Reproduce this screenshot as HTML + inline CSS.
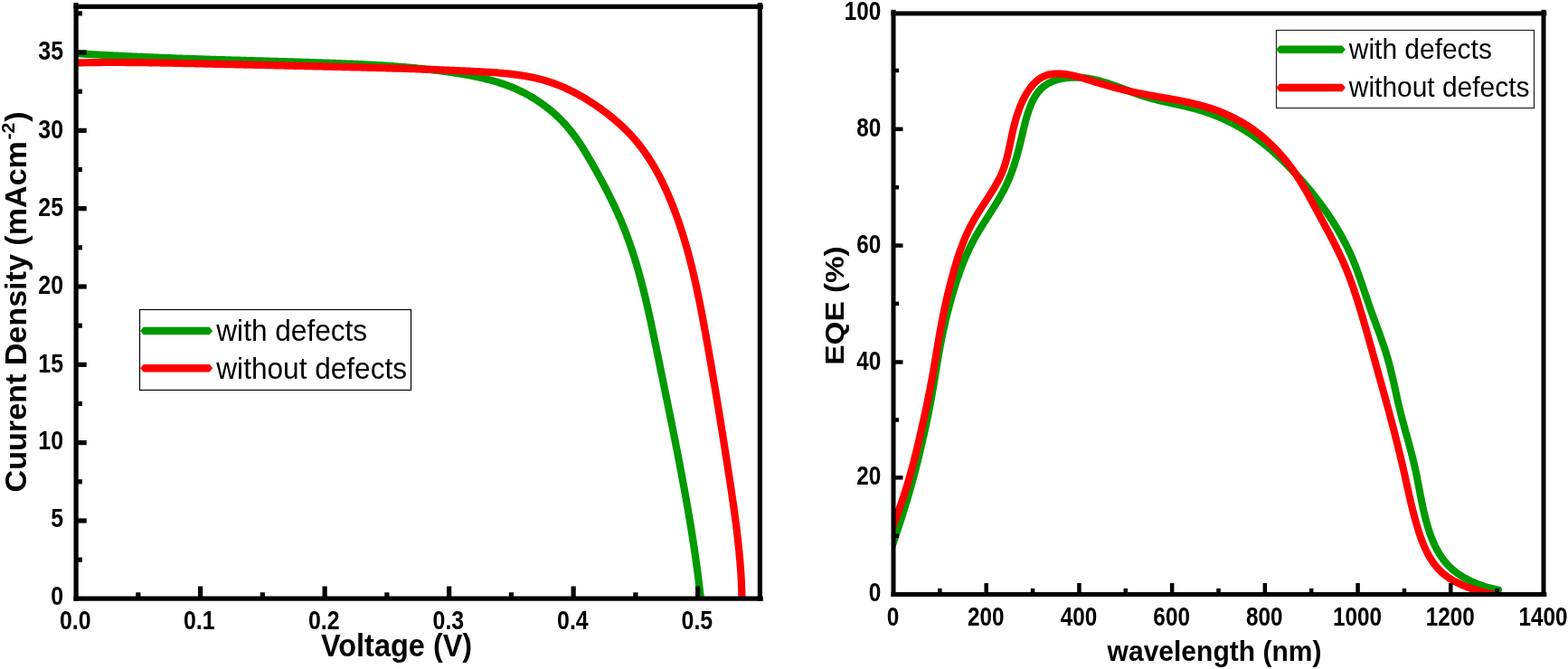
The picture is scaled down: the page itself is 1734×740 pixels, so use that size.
<!DOCTYPE html>
<html lang="en">
<head>
<meta charset="utf-8">
<title>J-V and EQE characteristics with and without defects</title>
<style>
html,body{margin:0;padding:0;background:#fff;}
body{width:1734px;height:740px;overflow:hidden;font-family:"Liberation Sans", sans-serif;}
svg{display:block;position:absolute;left:0;top:0;}
text{white-space:pre;}
</style>
</head>
<body>
<svg width="1734" height="740" viewBox="0 0 1734 740" font-family='"Liberation Sans", sans-serif' fill="#000">
<rect width="1734" height="740" fill="#fff"/>
<defs>
<clipPath id="cl"><rect x="84.1" y="7.3" width="756.3" height="654.8"/></clipPath>
<clipPath id="cr"><rect x="988" y="14.9" width="723" height="642.6"/></clipPath>
</defs>
<g fill="none" stroke-linejoin="round" stroke-linecap="butt" stroke-width="8.2" clip-path="url(#cl)">
<path stroke="#009900" d="M80.03 58.91 L81.89 59.03 L83.74 59.14 L85.6 59.25 L87.46 59.36 L89.31 59.47 L91.17 59.58 L93.03 59.69 L94.89 59.8 L96.75 59.91 L98.6 60.01 L100.46 60.12 L102.32 60.23 L104.18 60.33 L106.04 60.43 L107.9 60.53 L109.76 60.64 L111.62 60.74 L113.48 60.84 L115.35 60.93 L117.21 61.03 L119.07 61.13 L120.93 61.23 L122.79 61.32 L124.66 61.42 L126.52 61.51 L128.38 61.6 L130.24 61.7 L132.11 61.79 L133.97 61.88 L135.83 61.97 L137.7 62.06 L139.56 62.15 L141.43 62.23 L143.29 62.32 L145.15 62.41 L147.02 62.49 L148.88 62.58 L150.75 62.66 L152.61 62.75 L154.48 62.83 L156.34 62.91 L158.21 62.99 L160.07 63.07 L161.94 63.16 L163.8 63.23 L165.67 63.31 L167.53 63.39 L169.4 63.47 L171.26 63.55 L173.13 63.62 L175 63.7 L176.86 63.77 L178.73 63.85 L180.59 63.92 L182.46 63.99 L184.32 64.07 L186.19 64.14 L188.05 64.21 L189.92 64.28 L191.78 64.35 L193.65 64.42 L195.51 64.49 L197.37 64.56 L199.24 64.63 L201.1 64.69 L202.97 64.76 L204.83 64.83 L206.7 64.89 L208.56 64.96 L210.42 65.02 L212.29 65.08 L214.15 65.15 L216.01 65.21 L217.88 65.27 L219.74 65.34 L221.6 65.4 L223.46 65.46 L225.33 65.52 L227.19 65.58 L229.05 65.64 L230.91 65.7 L232.77 65.76 L234.64 65.82 L236.5 65.87 L238.36 65.93 L240.22 65.99 L242.08 66.05 L243.94 66.1 L245.8 66.16 L247.66 66.22 L249.52 66.27 L251.38 66.33 L253.25 66.38 L255.11 66.44 L256.97 66.49 L258.83 66.55 L260.69 66.6 L262.55 66.66 L264.41 66.71 L266.27 66.77 L268.13 66.82 L269.99 66.87 L271.85 66.93 L273.71 66.98 L275.57 67.03 L277.43 67.09 L279.29 67.14 L281.15 67.19 L283.01 67.25 L284.87 67.3 L286.73 67.35 L288.59 67.41 L290.45 67.46 L292.31 67.51 L294.17 67.57 L296.03 67.62 L297.89 67.68 L299.75 67.73 L301.61 67.78 L303.47 67.84 L305.33 67.89 L307.2 67.95 L309.06 68 L310.92 68.05 L312.78 68.11 L314.64 68.16 L316.5 68.22 L318.36 68.27 L320.22 68.33 L322.09 68.39 L323.95 68.44 L325.81 68.5 L327.67 68.55 L329.54 68.61 L331.4 68.67 L333.26 68.73 L335.12 68.78 L336.99 68.84 L338.85 68.9 L340.71 68.96 L342.58 69.02 L344.44 69.08 L346.3 69.14 L348.17 69.2 L350.03 69.26 L351.9 69.32 L353.76 69.39 L355.63 69.45 L357.49 69.51 L359.36 69.58 L361.22 69.64 L363.09 69.71 L364.96 69.77 L366.82 69.84 L368.69 69.91 L370.56 69.97 L372.42 70.04 L374.29 70.11 L376.16 70.18 L378.03 70.25 L379.89 70.33 L381.76 70.4 L383.63 70.48 L385.5 70.55 L387.36 70.63 L389.23 70.71 L391.1 70.79 L392.97 70.88 L394.83 70.96 L396.7 71.05 L398.57 71.13 L400.44 71.22 L402.3 71.31 L404.17 71.41 L406.04 71.5 L407.9 71.6 L409.77 71.7 L411.64 71.8 L413.5 71.9 L415.37 72.01 L417.23 72.12 L419.1 72.23 L420.96 72.34 L422.83 72.45 L424.69 72.57 L426.56 72.69 L428.42 72.81 L430.29 72.94 L432.15 73.07 L434.01 73.2 L435.87 73.33 L437.74 73.47 L439.6 73.61 L441.46 73.75 L443.32 73.9 L445.18 74.05 L447.04 74.2 L448.9 74.36 L450.76 74.52 L452.61 74.68 L454.47 74.85 L456.33 75.02 L458.18 75.19 L460.04 75.37 L461.9 75.55 L463.75 75.73 L465.6 75.92 L467.46 76.11 L469.31 76.31 L471.16 76.51 L473.01 76.71 L474.86 76.92 L476.71 77.13 L478.56 77.35 L480.41 77.57 L482.25 77.79 L484.1 78.02 L485.95 78.26 L487.79 78.5 L489.63 78.74 L491.48 78.99 L493.32 79.24 L495.16 79.5 L497 79.76 L498.84 80.03 L500.68 80.3 L502.51 80.57 L504.35 80.86 L506.19 81.14 L508.02 81.44 L509.85 81.74 L511.68 82.04 L513.51 82.35 L515.34 82.67 L517.17 83 L518.99 83.33 L520.81 83.68 L522.63 84.03 L524.45 84.39 L526.26 84.76 L528.08 85.14 L529.89 85.53 L531.69 85.94 L533.5 86.35 L535.3 86.77 L537.09 87.21 L538.89 87.66 L540.68 88.12 L542.47 88.6 L544.25 89.09 L546.03 89.59 L547.8 90.11 L549.57 90.64 L551.34 91.19 L553.1 91.75 L554.86 92.33 L556.61 92.93 L558.36 93.54 L560.1 94.17 L561.84 94.82 L563.57 95.49 L565.3 96.17 L567.02 96.87 L568.74 97.6 L570.45 98.34 L572.16 99.1 L573.85 99.88 L575.55 100.69 L577.23 101.51 L578.91 102.36 L580.59 103.22 L582.25 104.11 L583.91 105.02 L585.56 105.95 L587.2 106.91 L588.84 107.88 L590.46 108.87 L592.07 109.88 L593.68 110.91 L595.27 111.96 L596.85 113.03 L598.42 114.12 L599.97 115.22 L601.51 116.34 L603.04 117.48 L604.56 118.64 L606.06 119.81 L607.55 121.01 L609.02 122.21 L610.47 123.43 L611.91 124.67 L613.33 125.93 L614.74 127.19 L616.12 128.48 L617.49 129.78 L618.84 131.09 L620.17 132.41 L621.48 133.75 L622.77 135.1 L624.04 136.47 L625.29 137.85 L626.51 139.24 L627.72 140.64 L628.91 142.05 L630.09 143.47 L631.24 144.91 L632.38 146.36 L633.5 147.81 L634.6 149.28 L635.7 150.76 L636.77 152.24 L637.83 153.74 L638.88 155.24 L639.92 156.76 L640.94 158.28 L641.96 159.81 L642.96 161.34 L643.95 162.89 L644.94 164.44 L645.91 166 L646.88 167.56 L647.84 169.13 L648.79 170.71 L649.73 172.29 L650.67 173.88 L651.61 175.47 L652.54 177.07 L653.47 178.67 L654.39 180.28 L655.31 181.89 L656.23 183.5 L657.14 185.12 L658.06 186.74 L658.97 188.36 L659.88 189.99 L660.78 191.62 L661.68 193.25 L662.58 194.89 L663.48 196.53 L664.37 198.17 L665.25 199.82 L666.14 201.47 L667.02 203.12 L667.89 204.78 L668.76 206.44 L669.63 208.1 L670.49 209.77 L671.34 211.44 L672.2 213.11 L673.04 214.78 L673.88 216.46 L674.72 218.14 L675.55 219.83 L676.37 221.51 L677.19 223.2 L678 224.9 L678.81 226.59 L679.61 228.29 L680.4 229.99 L681.19 231.7 L681.97 233.4 L682.74 235.11 L683.51 236.82 L684.27 238.54 L685.02 240.26 L685.76 241.98 L686.5 243.7 L687.22 245.42 L687.95 247.15 L688.66 248.88 L689.36 250.61 L690.06 252.35 L690.74 254.08 L691.42 255.82 L692.09 257.56 L692.76 259.31 L693.41 261.05 L694.06 262.8 L694.7 264.55 L695.33 266.3 L695.95 268.06 L696.57 269.81 L697.18 271.57 L697.78 273.33 L698.38 275.09 L698.97 276.86 L699.55 278.63 L700.12 280.39 L700.69 282.16 L701.25 283.94 L701.81 285.71 L702.36 287.49 L702.9 289.26 L703.44 291.04 L703.97 292.82 L704.49 294.6 L705.01 296.39 L705.53 298.17 L706.03 299.96 L706.54 301.75 L707.04 303.54 L707.53 305.33 L708.02 307.12 L708.5 308.92 L708.97 310.72 L709.45 312.51 L709.92 314.31 L710.38 316.11 L710.84 317.91 L711.29 319.71 L711.75 321.52 L712.19 323.32 L712.63 325.13 L713.07 326.93 L713.51 328.74 L713.94 330.55 L714.37 332.36 L714.79 334.17 L715.21 335.99 L715.63 337.8 L716.05 339.61 L716.46 341.43 L716.87 343.24 L717.28 345.06 L717.68 346.88 L718.08 348.69 L718.48 350.51 L718.88 352.33 L719.27 354.15 L719.67 355.97 L720.06 357.79 L720.44 359.61 L720.83 361.44 L721.22 363.26 L721.6 365.08 L721.98 366.91 L722.36 368.73 L722.74 370.56 L723.12 372.38 L723.5 374.21 L723.88 376.03 L724.26 377.86 L724.63 379.68 L725.01 381.51 L725.38 383.34 L725.76 385.16 L726.13 386.99 L726.5 388.81 L726.88 390.64 L727.25 392.47 L727.63 394.3 L728 396.12 L728.38 397.95 L728.75 399.78 L729.13 401.6 L729.5 403.43 L729.88 405.26 L730.25 407.08 L730.63 408.91 L731 410.74 L731.38 412.56 L731.75 414.39 L732.13 416.22 L732.5 418.05 L732.88 419.87 L733.25 421.7 L733.63 423.53 L734 425.35 L734.38 427.18 L734.75 429.01 L735.13 430.84 L735.5 432.66 L735.87 434.49 L736.25 436.32 L736.62 438.15 L737 439.97 L737.37 441.8 L737.74 443.63 L738.11 445.46 L738.49 447.29 L738.86 449.11 L739.23 450.94 L739.6 452.77 L739.97 454.6 L740.34 456.43 L740.71 458.26 L741.08 460.08 L741.45 461.91 L741.82 463.74 L742.19 465.57 L742.55 467.4 L742.92 469.23 L743.29 471.06 L743.65 472.89 L744.02 474.72 L744.38 476.55 L744.75 478.37 L745.11 480.2 L745.48 482.03 L745.84 483.86 L746.2 485.69 L746.56 487.52 L746.92 489.35 L747.28 491.18 L747.64 493.01 L748 494.84 L748.36 496.67 L748.72 498.5 L749.07 500.34 L749.43 502.17 L749.78 504 L750.14 505.83 L750.49 507.66 L750.84 509.49 L751.19 511.32 L751.54 513.15 L751.89 514.98 L752.24 516.82 L752.59 518.65 L752.93 520.48 L753.28 522.31 L753.62 524.15 L753.97 525.98 L754.31 527.81 L754.65 529.64 L754.99 531.48 L755.33 533.31 L755.67 535.14 L756.01 536.98 L756.35 538.81 L756.68 540.64 L757.01 542.48 L757.35 544.31 L757.68 546.14 L758.01 547.98 L758.34 549.81 L758.67 551.65 L758.99 553.48 L759.32 555.32 L759.64 557.15 L759.96 558.99 L760.28 560.83 L760.6 562.66 L760.92 564.5 L761.24 566.33 L761.55 568.17 L761.86 570.01 L762.17 571.85 L762.48 573.68 L762.79 575.52 L763.1 577.36 L763.4 579.2 L763.71 581.04 L764.01 582.87 L764.31 584.71 L764.61 586.55 L764.9 588.39 L765.19 590.23 L765.49 592.07 L765.78 593.91 L766.07 595.76 L766.35 597.6 L766.64 599.44 L766.92 601.28 L767.2 603.12 L767.48 604.97 L767.75 606.81 L768.03 608.65 L768.3 610.5 L768.57 612.34 L768.83 614.18 L769.1 616.03 L769.36 617.87 L769.62 619.72 L769.88 621.57 L770.14 623.41 L770.39 625.26 L770.64 627.11 L770.89 628.96 L771.13 630.8 L771.38 632.65 L771.62 634.5 L771.86 636.35 L772.09 638.2 L772.33 640.05 L772.56 641.9 L772.79 643.75 L773.01 645.61 L773.23 647.46 L773.45 649.31 L773.67 651.16 L773.89 653.02 L774.1 654.87 L774.31 656.73 L774.51 658.58 L774.72 660.44 L774.92 662.29 L775.11 664.15 L775.31 666.01"/>
<path stroke="#ff0000" d="M79.98 69.55 L81.95 69.5 L83.91 69.45 L85.88 69.41 L87.84 69.36 L89.81 69.32 L91.77 69.29 L93.74 69.25 L95.7 69.22 L97.67 69.19 L99.63 69.16 L101.59 69.13 L103.56 69.11 L105.52 69.09 L107.48 69.07 L109.44 69.05 L111.41 69.04 L113.37 69.02 L115.33 69.01 L117.29 69 L119.26 69 L121.22 68.99 L123.18 68.99 L125.14 68.99 L127.1 68.99 L129.06 68.99 L131.02 69 L132.98 69 L134.95 69.01 L136.91 69.02 L138.87 69.03 L140.83 69.04 L142.79 69.06 L144.75 69.07 L146.71 69.09 L148.67 69.11 L150.63 69.13 L152.59 69.15 L154.55 69.17 L156.51 69.2 L158.47 69.22 L160.43 69.25 L162.39 69.27 L164.35 69.3 L166.31 69.33 L168.27 69.36 L170.23 69.39 L172.19 69.43 L174.15 69.46 L176.1 69.49 L178.06 69.53 L180.02 69.56 L181.98 69.6 L183.94 69.64 L185.9 69.68 L187.86 69.71 L189.82 69.75 L191.78 69.79 L193.74 69.83 L195.7 69.88 L197.66 69.92 L199.62 69.96 L201.58 70 L203.54 70.04 L205.5 70.09 L207.46 70.13 L209.43 70.17 L211.39 70.22 L213.35 70.26 L215.31 70.3 L217.27 70.35 L219.23 70.39 L221.19 70.44 L223.15 70.48 L225.11 70.52 L227.08 70.57 L229.04 70.61 L231 70.66 L232.96 70.7 L234.92 70.74 L236.89 70.79 L238.85 70.83 L240.81 70.88 L242.77 70.92 L244.74 70.96 L246.7 71.01 L248.66 71.05 L250.63 71.1 L252.59 71.14 L254.55 71.18 L256.51 71.23 L258.48 71.27 L260.44 71.32 L262.4 71.36 L264.37 71.4 L266.33 71.45 L268.3 71.49 L270.26 71.54 L272.22 71.58 L274.19 71.62 L276.15 71.67 L278.11 71.71 L280.08 71.76 L282.04 71.8 L284 71.85 L285.97 71.89 L287.93 71.93 L289.89 71.98 L291.86 72.02 L293.82 72.07 L295.79 72.11 L297.75 72.16 L299.71 72.2 L301.68 72.25 L303.64 72.29 L305.6 72.33 L307.57 72.38 L309.53 72.42 L311.49 72.47 L313.46 72.51 L315.42 72.56 L317.38 72.6 L319.35 72.65 L321.31 72.69 L323.27 72.74 L325.24 72.78 L327.2 72.83 L329.16 72.88 L331.12 72.92 L333.09 72.97 L335.05 73.01 L337.01 73.06 L338.97 73.1 L340.93 73.15 L342.9 73.2 L344.86 73.24 L346.82 73.29 L348.78 73.33 L350.74 73.38 L352.7 73.43 L354.66 73.47 L356.63 73.52 L358.59 73.57 L360.55 73.61 L362.51 73.66 L364.47 73.71 L366.43 73.75 L368.39 73.8 L370.35 73.85 L372.31 73.9 L374.27 73.94 L376.23 73.99 L378.19 74.04 L380.14 74.09 L382.1 74.13 L384.06 74.18 L386.02 74.23 L387.98 74.28 L389.94 74.33 L391.89 74.38 L393.85 74.43 L395.81 74.47 L397.77 74.52 L399.73 74.57 L401.68 74.62 L403.64 74.68 L405.6 74.73 L407.56 74.78 L409.51 74.83 L411.47 74.88 L413.43 74.93 L415.39 74.99 L417.34 75.04 L419.3 75.09 L421.26 75.15 L423.22 75.2 L425.17 75.26 L427.13 75.31 L429.09 75.37 L431.05 75.42 L433.01 75.48 L434.96 75.54 L436.92 75.6 L438.88 75.65 L440.84 75.71 L442.8 75.77 L444.76 75.83 L446.72 75.89 L448.68 75.96 L450.64 76.02 L452.59 76.08 L454.55 76.15 L456.51 76.21 L458.48 76.27 L460.44 76.34 L462.4 76.41 L464.36 76.47 L466.32 76.54 L468.28 76.61 L470.24 76.68 L472.2 76.75 L474.17 76.82 L476.13 76.9 L478.09 76.97 L480.06 77.04 L482.02 77.12 L483.98 77.19 L485.95 77.27 L487.91 77.35 L489.88 77.42 L491.84 77.5 L493.81 77.58 L495.78 77.67 L497.74 77.75 L499.71 77.83 L501.68 77.92 L503.65 78 L505.62 78.09 L507.58 78.18 L509.55 78.26 L511.52 78.35 L513.49 78.44 L515.47 78.54 L517.44 78.63 L519.41 78.72 L521.38 78.82 L523.36 78.92 L525.33 79.01 L527.3 79.11 L529.28 79.21 L531.25 79.32 L533.23 79.42 L535.21 79.53 L537.18 79.64 L539.16 79.76 L541.13 79.88 L543.1 80 L545.08 80.13 L547.05 80.27 L549.02 80.41 L550.99 80.56 L552.96 80.72 L554.92 80.88 L556.89 81.06 L558.85 81.24 L560.81 81.44 L562.77 81.64 L564.73 81.86 L566.68 82.08 L568.63 82.32 L570.57 82.57 L572.52 82.83 L574.46 83.11 L576.4 83.4 L578.33 83.7 L580.26 84.02 L582.18 84.35 L584.1 84.71 L586.02 85.07 L587.93 85.46 L589.84 85.86 L591.74 86.28 L593.64 86.71 L595.53 87.17 L597.42 87.65 L599.3 88.14 L601.18 88.66 L603.05 89.2 L604.91 89.76 L606.77 90.34 L608.62 90.94 L610.46 91.57 L612.3 92.22 L614.13 92.89 L615.96 93.58 L617.78 94.3 L619.59 95.03 L621.39 95.79 L623.19 96.56 L624.98 97.36 L626.76 98.17 L628.54 99.01 L630.3 99.86 L632.07 100.73 L633.82 101.62 L635.57 102.52 L637.3 103.44 L639.04 104.38 L640.76 105.34 L642.48 106.31 L644.18 107.29 L645.88 108.29 L647.58 109.31 L649.26 110.34 L650.94 111.38 L652.61 112.44 L654.27 113.51 L655.92 114.59 L657.56 115.69 L659.2 116.8 L660.82 117.91 L662.44 119.04 L664.05 120.19 L665.65 121.34 L667.24 122.5 L668.82 123.68 L670.39 124.87 L671.95 126.07 L673.5 127.28 L675.04 128.5 L676.57 129.74 L678.09 130.99 L679.59 132.25 L681.09 133.52 L682.57 134.81 L684.04 136.11 L685.5 137.42 L686.94 138.74 L688.37 140.07 L689.79 141.42 L691.19 142.78 L692.58 144.16 L693.95 145.55 L695.31 146.95 L696.66 148.36 L697.99 149.79 L699.3 151.23 L700.6 152.68 L701.89 154.14 L703.15 155.63 L704.41 157.12 L705.64 158.63 L706.86 160.15 L708.06 161.68 L709.25 163.23 L710.42 164.78 L711.57 166.36 L712.71 167.94 L713.83 169.53 L714.94 171.14 L716.04 172.75 L717.12 174.38 L718.18 176.02 L719.23 177.67 L720.27 179.33 L721.29 180.99 L722.3 182.67 L723.3 184.36 L724.28 186.05 L725.25 187.76 L726.21 189.47 L727.15 191.19 L728.08 192.92 L729 194.66 L729.91 196.4 L730.8 198.15 L731.69 199.91 L732.56 201.67 L733.42 203.44 L734.27 205.22 L735.1 207 L735.93 208.79 L736.75 210.58 L737.55 212.38 L738.35 214.18 L739.13 215.99 L739.9 217.8 L740.67 219.61 L741.42 221.43 L742.17 223.25 L742.91 225.08 L743.63 226.91 L744.35 228.74 L745.06 230.57 L745.76 232.4 L746.46 234.24 L747.14 236.08 L747.82 237.92 L748.48 239.77 L749.14 241.61 L749.8 243.46 L750.44 245.31 L751.08 247.17 L751.7 249.02 L752.32 250.88 L752.94 252.74 L753.54 254.6 L754.14 256.46 L754.73 258.33 L755.32 260.19 L755.89 262.06 L756.46 263.93 L757.03 265.81 L757.58 267.68 L758.13 269.56 L758.68 271.44 L759.21 273.32 L759.74 275.2 L760.27 277.08 L760.79 278.97 L761.3 280.85 L761.81 282.74 L762.31 284.63 L762.8 286.52 L763.29 288.41 L763.78 290.31 L764.26 292.2 L764.73 294.1 L765.2 296 L765.66 297.9 L766.12 299.8 L766.58 301.7 L767.03 303.61 L767.47 305.51 L767.91 307.42 L768.35 309.33 L768.78 311.24 L769.2 313.15 L769.63 315.06 L770.05 316.97 L770.46 318.88 L770.87 320.8 L771.28 322.71 L771.68 324.63 L772.08 326.54 L772.48 328.46 L772.88 330.38 L773.27 332.3 L773.65 334.22 L774.04 336.14 L774.42 338.06 L774.8 339.99 L775.17 341.91 L775.55 343.83 L775.92 345.76 L776.29 347.68 L776.65 349.61 L777.02 351.54 L777.38 353.46 L777.74 355.39 L778.1 357.32 L778.45 359.25 L778.81 361.18 L779.16 363.11 L779.52 365.04 L779.87 366.97 L780.22 368.9 L780.56 370.83 L780.91 372.76 L781.26 374.69 L781.6 376.62 L781.95 378.55 L782.29 380.48 L782.63 382.41 L782.98 384.35 L783.32 386.28 L783.66 388.21 L784 390.14 L784.34 392.07 L784.68 394.01 L785.01 395.94 L785.35 397.87 L785.69 399.8 L786.02 401.74 L786.36 403.67 L786.69 405.6 L787.02 407.54 L787.36 409.47 L787.69 411.41 L788.02 413.34 L788.35 415.27 L788.68 417.21 L789.01 419.14 L789.34 421.08 L789.66 423.01 L789.99 424.95 L790.32 426.88 L790.64 428.82 L790.97 430.75 L791.29 432.69 L791.61 434.62 L791.94 436.56 L792.26 438.49 L792.58 440.43 L792.9 442.36 L793.22 444.3 L793.54 446.24 L793.86 448.17 L794.18 450.11 L794.5 452.05 L794.81 453.98 L795.13 455.92 L795.45 457.85 L795.76 459.79 L796.08 461.73 L796.39 463.66 L796.7 465.6 L797.02 467.54 L797.33 469.48 L797.64 471.41 L797.95 473.35 L798.26 475.29 L798.57 477.22 L798.88 479.16 L799.19 481.1 L799.5 483.04 L799.81 484.97 L800.11 486.91 L800.42 488.85 L800.73 490.79 L801.03 492.73 L801.34 494.66 L801.64 496.6 L801.95 498.54 L802.25 500.48 L802.55 502.41 L802.86 504.35 L803.16 506.29 L803.46 508.23 L803.76 510.17 L804.06 512.11 L804.36 514.04 L804.66 515.98 L804.96 517.92 L805.26 519.86 L805.56 521.8 L805.86 523.74 L806.15 525.67 L806.45 527.61 L806.75 529.55 L807.04 531.49 L807.34 533.43 L807.63 535.37 L807.93 537.3 L808.22 539.24 L808.51 541.18 L808.8 543.12 L809.09 545.06 L809.38 547 L809.66 548.94 L809.95 550.88 L810.23 552.82 L810.51 554.76 L810.79 556.7 L811.07 558.64 L811.34 560.58 L811.62 562.52 L811.89 564.46 L812.16 566.4 L812.42 568.34 L812.69 570.28 L812.95 572.23 L813.2 574.17 L813.46 576.11 L813.71 578.05 L813.96 580 L814.21 581.94 L814.45 583.88 L814.69 585.83 L814.93 587.77 L815.16 589.72 L815.39 591.66 L815.62 593.61 L815.84 595.56 L816.06 597.5 L816.27 599.45 L816.48 601.4 L816.69 603.35 L816.89 605.3 L817.09 607.25 L817.28 609.2 L817.47 611.15 L817.65 613.1 L817.83 615.05 L818.01 617 L818.18 618.95 L818.34 620.91 L818.5 622.86 L818.65 624.81 L818.8 626.77 L818.95 628.73 L819.08 630.68 L819.22 632.64 L819.34 634.6 L819.47 636.56 L819.58 638.51 L819.69 640.47 L819.79 642.43 L819.89 644.4 L819.98 646.36 L820.07 648.32 L820.14 650.28 L820.22 652.25 L820.28 654.21 L820.34 656.18 L820.39 658.15 L820.43 660.11 L820.47 662.08 L820.5 664.05 L820.53 666.02"/>
</g>
<g fill="none" stroke-linejoin="round" stroke-linecap="round" stroke-width="8.1" clip-path="url(#cr)">
<path stroke="#009900" d="M984 612 L984.55 610.35 L985.1 608.7 L985.65 607.05 L986.2 605.4 L986.75 603.74 L987.3 602.09 L987.86 600.43 L988.41 598.78 L988.96 597.12 L989.51 595.46 L990.07 593.8 L990.62 592.14 L991.17 590.48 L991.72 588.82 L992.27 587.15 L992.82 585.49 L993.37 583.83 L993.92 582.16 L994.46 580.5 L995 578.83 L995.55 577.16 L996.09 575.5 L996.63 573.83 L997.16 572.16 L997.69 570.5 L998.23 568.83 L998.75 567.16 L999.28 565.5 L999.8 563.83 L1000.32 562.16 L1000.84 560.5 L1001.35 558.83 L1001.86 557.17 L1002.37 555.5 L1002.87 553.84 L1003.37 552.17 L1003.86 550.51 L1004.35 548.84 L1004.84 547.18 L1005.32 545.52 L1005.8 543.85 L1006.28 542.19 L1006.75 540.53 L1007.22 538.86 L1007.69 537.2 L1008.15 535.53 L1008.61 533.87 L1009.06 532.2 L1009.52 530.53 L1009.97 528.87 L1010.41 527.2 L1010.86 525.53 L1011.3 523.86 L1011.74 522.19 L1012.17 520.51 L1012.61 518.84 L1013.04 517.16 L1013.46 515.49 L1013.89 513.81 L1014.31 512.13 L1014.73 510.45 L1015.15 508.76 L1015.57 507.08 L1015.98 505.39 L1016.39 503.7 L1016.8 502.01 L1017.21 500.31 L1017.61 498.62 L1018.02 496.92 L1018.42 495.22 L1018.82 493.51 L1019.22 491.8 L1019.61 490.1 L1020.01 488.38 L1020.4 486.67 L1020.79 484.96 L1021.17 483.24 L1021.56 481.52 L1021.94 479.8 L1022.32 478.08 L1022.7 476.36 L1023.08 474.63 L1023.45 472.91 L1023.82 471.19 L1024.19 469.46 L1024.55 467.73 L1024.92 466.01 L1025.28 464.28 L1025.63 462.55 L1025.99 460.83 L1026.34 459.1 L1026.69 457.37 L1027.03 455.64 L1027.37 453.92 L1027.71 452.19 L1028.04 450.47 L1028.38 448.75 L1028.7 447.02 L1029.03 445.3 L1029.35 443.58 L1029.67 441.86 L1029.98 440.15 L1030.29 438.43 L1030.6 436.72 L1030.9 435.01 L1031.2 433.3 L1031.49 431.59 L1031.79 429.89 L1032.08 428.18 L1032.36 426.48 L1032.65 424.78 L1032.93 423.08 L1033.21 421.38 L1033.49 419.68 L1033.77 417.98 L1034.05 416.29 L1034.33 414.59 L1034.6 412.9 L1034.88 411.2 L1035.16 409.51 L1035.43 407.81 L1035.71 406.12 L1035.99 404.42 L1036.27 402.73 L1036.55 401.04 L1036.83 399.34 L1037.12 397.65 L1037.41 395.95 L1037.7 394.25 L1037.99 392.56 L1038.29 390.86 L1038.59 389.16 L1038.89 387.46 L1039.2 385.76 L1039.51 384.05 L1039.83 382.35 L1040.15 380.64 L1040.48 378.93 L1040.81 377.22 L1041.15 375.51 L1041.49 373.8 L1041.84 372.08 L1042.19 370.37 L1042.55 368.65 L1042.92 366.93 L1043.29 365.21 L1043.66 363.49 L1044.04 361.77 L1044.43 360.05 L1044.82 358.33 L1045.22 356.61 L1045.62 354.89 L1046.03 353.17 L1046.44 351.45 L1046.86 349.74 L1047.28 348.02 L1047.71 346.31 L1048.15 344.59 L1048.59 342.88 L1049.03 341.17 L1049.48 339.46 L1049.93 337.76 L1050.39 336.06 L1050.85 334.36 L1051.32 332.66 L1051.8 330.97 L1052.27 329.28 L1052.76 327.59 L1053.24 325.91 L1053.74 324.23 L1054.23 322.56 L1054.74 320.89 L1055.24 319.22 L1055.75 317.56 L1056.27 315.9 L1056.79 314.25 L1057.32 312.61 L1057.85 310.96 L1058.39 309.33 L1058.93 307.69 L1059.48 306.07 L1060.04 304.44 L1060.6 302.82 L1061.18 301.21 L1061.76 299.6 L1062.34 297.99 L1062.94 296.39 L1063.54 294.79 L1064.16 293.19 L1064.78 291.6 L1065.41 290.01 L1066.05 288.43 L1066.7 286.85 L1067.36 285.28 L1068.03 283.7 L1068.72 282.13 L1069.41 280.57 L1070.11 279.01 L1070.83 277.45 L1071.56 275.89 L1072.3 274.34 L1073.06 272.79 L1073.82 271.24 L1074.6 269.7 L1075.39 268.16 L1076.2 266.62 L1077.02 265.09 L1077.86 263.56 L1078.71 262.03 L1079.57 260.5 L1080.45 258.98 L1081.34 257.46 L1082.24 255.94 L1083.15 254.42 L1084.07 252.9 L1085 251.39 L1085.94 249.88 L1086.88 248.37 L1087.83 246.86 L1088.78 245.35 L1089.74 243.85 L1090.7 242.34 L1091.66 240.84 L1092.63 239.34 L1093.59 237.83 L1094.55 236.33 L1095.51 234.83 L1096.46 233.33 L1097.41 231.83 L1098.36 230.34 L1099.3 228.84 L1100.23 227.34 L1101.16 225.84 L1102.08 224.34 L1102.98 222.84 L1103.88 221.34 L1104.76 219.84 L1105.63 218.34 L1106.49 216.84 L1107.33 215.33 L1108.16 213.83 L1108.97 212.33 L1109.76 210.82 L1110.54 209.31 L1111.3 207.8 L1112.03 206.29 L1112.76 204.78 L1113.46 203.26 L1114.15 201.74 L1114.82 200.22 L1115.48 198.69 L1116.12 197.16 L1116.75 195.63 L1117.36 194.08 L1117.96 192.54 L1118.55 190.98 L1119.12 189.42 L1119.68 187.86 L1120.24 186.28 L1120.78 184.7 L1121.31 183.11 L1121.83 181.51 L1122.34 179.91 L1122.84 178.29 L1123.33 176.67 L1123.81 175.03 L1124.29 173.39 L1124.76 171.73 L1125.22 170.06 L1125.68 168.38 L1126.13 166.69 L1126.58 164.99 L1127.02 163.27 L1127.46 161.54 L1127.89 159.8 L1128.32 158.05 L1128.75 156.28 L1129.17 154.49 L1129.6 152.69 L1130.02 150.88 L1130.44 149.05 L1130.87 147.22 L1131.3 145.38 L1131.73 143.54 L1132.17 141.69 L1132.62 139.85 L1133.08 138 L1133.55 136.16 L1134.03 134.32 L1134.52 132.49 L1135.02 130.67 L1135.54 128.87 L1136.08 127.07 L1136.64 125.29 L1137.21 123.53 L1137.81 121.79 L1138.43 120.07 L1139.07 118.38 L1139.73 116.71 L1140.43 115.07 L1141.15 113.46 L1141.89 111.88 L1142.67 110.33 L1143.48 108.82 L1144.32 107.35 L1145.2 105.92 L1146.11 104.53 L1147.05 103.19 L1148.04 101.89 L1149.06 100.64 L1150.13 99.44 L1151.23 98.29 L1152.38 97.2 L1153.57 96.16 L1154.81 95.18 L1156.08 94.25 L1157.4 93.37 L1158.75 92.55 L1160.13 91.78 L1161.55 91.05 L1163.01 90.38 L1164.49 89.75 L1166 89.18 L1167.54 88.65 L1169.11 88.16 L1170.71 87.73 L1172.32 87.33 L1173.96 86.98 L1175.62 86.67 L1177.29 86.41 L1178.99 86.18 L1180.7 86 L1182.42 85.85 L1184.16 85.74 L1185.91 85.67 L1187.66 85.64 L1189.43 85.65 L1191.2 85.68 L1192.98 85.76 L1194.75 85.86 L1196.54 86 L1198.32 86.17 L1200.1 86.37 L1201.87 86.6 L1203.65 86.86 L1205.41 87.15 L1207.17 87.46 L1208.92 87.81 L1210.66 88.17 L1212.4 88.57 L1214.12 88.98 L1215.83 89.42 L1217.54 89.87 L1219.24 90.35 L1220.93 90.85 L1222.62 91.36 L1224.3 91.89 L1225.97 92.43 L1227.64 92.98 L1229.31 93.55 L1230.96 94.13 L1232.62 94.72 L1234.27 95.31 L1235.92 95.92 L1237.56 96.53 L1239.2 97.14 L1240.84 97.76 L1242.48 98.38 L1244.12 99.01 L1245.75 99.63 L1247.39 100.25 L1249.02 100.87 L1250.66 101.48 L1252.29 102.09 L1253.93 102.7 L1255.56 103.29 L1257.2 103.88 L1258.84 104.46 L1260.49 105.03 L1262.13 105.58 L1263.78 106.13 L1265.44 106.65 L1267.09 107.17 L1268.76 107.66 L1270.42 108.15 L1272.09 108.62 L1273.76 109.07 L1275.44 109.52 L1277.12 109.95 L1278.8 110.37 L1280.48 110.79 L1282.17 111.2 L1283.86 111.59 L1285.55 111.99 L1287.24 112.37 L1288.93 112.75 L1290.62 113.13 L1292.32 113.51 L1294.02 113.88 L1295.71 114.25 L1297.41 114.62 L1299.11 114.99 L1300.8 115.36 L1302.5 115.73 L1304.2 116.11 L1305.89 116.49 L1307.59 116.87 L1309.28 117.26 L1310.98 117.66 L1312.67 118.06 L1314.36 118.47 L1316.05 118.89 L1317.73 119.32 L1319.42 119.76 L1321.1 120.21 L1322.78 120.67 L1324.45 121.15 L1326.12 121.64 L1327.79 122.14 L1329.46 122.66 L1331.12 123.19 L1332.78 123.74 L1334.43 124.3 L1336.08 124.87 L1337.73 125.45 L1339.37 126.05 L1341 126.67 L1342.63 127.29 L1344.26 127.93 L1345.88 128.58 L1347.5 129.25 L1349.11 129.93 L1350.71 130.62 L1352.31 131.33 L1353.9 132.05 L1355.49 132.78 L1357.07 133.53 L1358.64 134.28 L1360.21 135.06 L1361.77 135.84 L1363.32 136.64 L1364.87 137.45 L1366.41 138.27 L1367.94 139.11 L1369.46 139.96 L1370.97 140.82 L1372.48 141.69 L1373.98 142.58 L1375.47 143.48 L1376.95 144.39 L1378.42 145.32 L1379.88 146.26 L1381.34 147.21 L1382.78 148.17 L1384.22 149.14 L1385.65 150.13 L1387.07 151.13 L1388.48 152.13 L1389.88 153.15 L1391.27 154.19 L1392.66 155.23 L1394.04 156.28 L1395.41 157.34 L1396.77 158.41 L1398.12 159.5 L1399.47 160.59 L1400.81 161.69 L1402.14 162.8 L1403.47 163.92 L1404.78 165.05 L1406.09 166.18 L1407.4 167.33 L1408.69 168.48 L1409.98 169.64 L1411.27 170.81 L1412.54 171.99 L1413.81 173.17 L1415.08 174.36 L1416.34 175.56 L1417.59 176.76 L1418.83 177.97 L1420.07 179.19 L1421.31 180.41 L1422.54 181.63 L1423.76 182.87 L1424.98 184.1 L1426.19 185.35 L1427.39 186.6 L1428.6 187.85 L1429.79 189.11 L1430.98 190.37 L1432.17 191.64 L1433.35 192.91 L1434.52 194.19 L1435.69 195.47 L1436.85 196.76 L1438.01 198.05 L1439.16 199.34 L1440.31 200.65 L1441.45 201.95 L1442.59 203.26 L1443.71 204.58 L1444.84 205.9 L1445.95 207.23 L1447.07 208.56 L1448.17 209.9 L1449.27 211.24 L1450.36 212.58 L1451.45 213.93 L1452.53 215.29 L1453.61 216.65 L1454.67 218.01 L1455.74 219.38 L1456.79 220.76 L1457.84 222.14 L1458.89 223.52 L1459.92 224.91 L1460.95 226.3 L1461.98 227.7 L1462.99 229.1 L1464.01 230.51 L1465.01 231.93 L1466.01 233.34 L1467 234.77 L1467.98 236.19 L1468.96 237.63 L1469.93 239.06 L1470.89 240.5 L1471.85 241.95 L1472.79 243.4 L1473.73 244.86 L1474.66 246.32 L1475.59 247.79 L1476.5 249.26 L1477.41 250.74 L1478.31 252.22 L1479.2 253.71 L1480.08 255.2 L1480.95 256.7 L1481.82 258.2 L1482.67 259.71 L1483.51 261.22 L1484.35 262.74 L1485.18 264.26 L1485.99 265.79 L1486.8 267.33 L1487.6 268.87 L1488.38 270.41 L1489.16 271.96 L1489.93 273.52 L1490.68 275.08 L1491.43 276.64 L1492.16 278.21 L1492.89 279.79 L1493.6 281.37 L1494.3 282.96 L1494.99 284.56 L1495.67 286.16 L1496.34 287.76 L1497 289.37 L1497.65 290.98 L1498.29 292.6 L1498.93 294.22 L1499.55 295.85 L1500.17 297.48 L1500.78 299.11 L1501.39 300.75 L1501.98 302.39 L1502.58 304.03 L1503.16 305.67 L1503.74 307.32 L1504.32 308.97 L1504.89 310.62 L1505.46 312.27 L1506.03 313.93 L1506.59 315.58 L1507.16 317.24 L1507.72 318.9 L1508.28 320.56 L1508.83 322.22 L1509.39 323.87 L1509.95 325.53 L1510.51 327.19 L1511.07 328.85 L1511.63 330.5 L1512.19 332.16 L1512.75 333.82 L1513.32 335.47 L1513.89 337.12 L1514.47 338.77 L1515.04 340.42 L1515.63 342.06 L1516.21 343.71 L1516.8 345.35 L1517.4 346.99 L1517.99 348.63 L1518.59 350.26 L1519.19 351.9 L1519.79 353.53 L1520.39 355.17 L1520.99 356.8 L1521.59 358.43 L1522.19 360.06 L1522.79 361.7 L1523.39 363.33 L1523.99 364.96 L1524.58 366.59 L1525.18 368.22 L1525.77 369.86 L1526.35 371.49 L1526.94 373.13 L1527.51 374.76 L1528.09 376.4 L1528.66 378.04 L1529.22 379.68 L1529.78 381.32 L1530.34 382.96 L1530.88 384.61 L1531.42 386.25 L1531.95 387.9 L1532.48 389.56 L1532.99 391.21 L1533.5 392.87 L1534 394.53 L1534.49 396.19 L1534.97 397.86 L1535.44 399.53 L1535.9 401.2 L1536.35 402.88 L1536.79 404.56 L1537.23 406.24 L1537.66 407.93 L1538.08 409.61 L1538.49 411.3 L1538.9 412.99 L1539.31 414.69 L1539.71 416.38 L1540.1 418.08 L1540.49 419.78 L1540.88 421.48 L1541.26 423.18 L1541.64 424.88 L1542.02 426.58 L1542.4 428.28 L1542.78 429.99 L1543.15 431.69 L1543.53 433.4 L1543.91 435.1 L1544.28 436.81 L1544.66 438.51 L1545.04 440.22 L1545.42 441.92 L1545.81 443.63 L1546.19 445.33 L1546.58 447.04 L1546.98 448.74 L1547.38 450.44 L1547.78 452.14 L1548.19 453.84 L1548.61 455.53 L1549.03 457.23 L1549.45 458.92 L1549.89 460.62 L1550.32 462.31 L1550.77 464 L1551.21 465.69 L1551.66 467.37 L1552.12 469.06 L1552.58 470.75 L1553.04 472.43 L1553.5 474.11 L1553.96 475.8 L1554.43 477.48 L1554.89 479.16 L1555.36 480.84 L1555.82 482.52 L1556.29 484.2 L1556.76 485.89 L1557.22 487.57 L1557.68 489.25 L1558.14 490.93 L1558.6 492.61 L1559.05 494.29 L1559.51 495.97 L1559.95 497.65 L1560.4 499.33 L1560.84 501.01 L1561.27 502.7 L1561.7 504.38 L1562.12 506.06 L1562.54 507.75 L1562.95 509.44 L1563.35 511.12 L1563.75 512.81 L1564.14 514.5 L1564.52 516.19 L1564.89 517.88 L1565.25 519.58 L1565.61 521.27 L1565.96 522.96 L1566.31 524.66 L1566.65 526.36 L1566.99 528.06 L1567.33 529.75 L1567.66 531.45 L1567.99 533.15 L1568.32 534.86 L1568.64 536.56 L1568.97 538.26 L1569.29 539.96 L1569.62 541.67 L1569.94 543.37 L1570.27 545.08 L1570.6 546.78 L1570.93 548.49 L1571.26 550.2 L1571.6 551.9 L1571.95 553.61 L1572.29 555.32 L1572.65 557.03 L1573 558.73 L1573.37 560.44 L1573.74 562.15 L1574.12 563.86 L1574.51 565.57 L1574.9 567.27 L1575.31 568.98 L1575.72 570.69 L1576.15 572.4 L1576.59 574.1 L1577.03 575.81 L1577.49 577.52 L1577.97 579.22 L1578.45 580.92 L1578.95 582.62 L1579.47 584.31 L1580 585.99 L1580.55 587.67 L1581.11 589.35 L1581.69 591.01 L1582.29 592.67 L1582.91 594.31 L1583.55 595.95 L1584.2 597.57 L1584.88 599.18 L1585.58 600.78 L1586.3 602.37 L1587.05 603.94 L1587.82 605.5 L1588.61 607.04 L1589.42 608.56 L1590.27 610.06 L1591.13 611.55 L1592.03 613.02 L1592.95 614.47 L1593.9 615.89 L1594.88 617.29 L1595.88 618.68 L1596.92 620.03 L1597.99 621.37 L1599.09 622.67 L1600.22 623.96 L1601.38 625.21 L1602.58 626.44 L1603.81 627.64 L1605.07 628.81 L1606.37 629.95 L1607.69 631.07 L1609.05 632.15 L1610.43 633.21 L1611.84 634.24 L1613.27 635.25 L1614.73 636.22 L1616.21 637.17 L1617.72 638.09 L1619.24 638.99 L1620.78 639.85 L1622.34 640.69 L1623.92 641.51 L1625.51 642.3 L1627.12 643.06 L1628.74 643.8 L1630.37 644.51 L1632.01 645.19 L1633.66 645.85 L1635.32 646.49 L1636.98 647.09 L1638.65 647.68 L1640.32 648.24 L1641.99 648.77 L1643.67 649.28 L1645.34 649.77 L1647.02 650.23 L1648.69 650.66 L1650.36 651.08 L1652.02 651.47 L1653.68 651.83 L1655.32 652.17 L1656.96 652.49"/>
<path stroke="#ff0000" d="M983.88 591.96 L984.5 590.33 L985.11 588.71 L985.72 587.09 L986.33 585.46 L986.94 583.84 L987.55 582.21 L988.15 580.58 L988.75 578.95 L989.35 577.32 L989.95 575.69 L990.55 574.06 L991.14 572.43 L991.74 570.79 L992.33 569.16 L992.91 567.52 L993.49 565.89 L994.07 564.25 L994.65 562.61 L995.23 560.97 L995.8 559.33 L996.36 557.69 L996.92 556.04 L997.48 554.4 L998.04 552.75 L998.59 551.11 L999.14 549.46 L999.68 547.81 L1000.22 546.16 L1000.75 544.5 L1001.28 542.85 L1001.8 541.19 L1002.32 539.54 L1002.83 537.88 L1003.34 536.22 L1003.84 534.56 L1004.34 532.9 L1004.83 531.23 L1005.31 529.57 L1005.79 527.9 L1006.27 526.23 L1006.74 524.56 L1007.21 522.89 L1007.67 521.22 L1008.12 519.55 L1008.58 517.87 L1009.03 516.2 L1009.47 514.52 L1009.91 512.84 L1010.35 511.17 L1010.78 509.49 L1011.21 507.8 L1011.63 506.12 L1012.05 504.44 L1012.47 502.75 L1012.89 501.07 L1013.3 499.38 L1013.71 497.7 L1014.12 496.01 L1014.52 494.32 L1014.93 492.63 L1015.33 490.94 L1015.72 489.25 L1016.12 487.55 L1016.51 485.86 L1016.9 484.17 L1017.29 482.47 L1017.68 480.78 L1018.07 479.08 L1018.45 477.38 L1018.84 475.69 L1019.22 473.99 L1019.6 472.29 L1019.98 470.59 L1020.36 468.89 L1020.74 467.19 L1021.12 465.49 L1021.49 463.79 L1021.87 462.09 L1022.24 460.38 L1022.61 458.68 L1022.98 456.98 L1023.34 455.28 L1023.71 453.57 L1024.07 451.87 L1024.43 450.16 L1024.79 448.46 L1025.15 446.75 L1025.5 445.05 L1025.85 443.34 L1026.2 441.64 L1026.55 439.93 L1026.9 438.23 L1027.24 436.52 L1027.58 434.82 L1027.92 433.11 L1028.25 431.41 L1028.58 429.7 L1028.91 427.99 L1029.24 426.29 L1029.56 424.58 L1029.88 422.88 L1030.2 421.17 L1030.52 419.47 L1030.83 417.76 L1031.14 416.06 L1031.44 414.35 L1031.74 412.65 L1032.04 410.94 L1032.34 409.24 L1032.64 407.53 L1032.93 405.83 L1033.22 404.12 L1033.51 402.42 L1033.8 400.72 L1034.09 399.01 L1034.37 397.31 L1034.66 395.6 L1034.94 393.9 L1035.23 392.19 L1035.51 390.49 L1035.8 388.78 L1036.08 387.08 L1036.37 385.37 L1036.66 383.67 L1036.94 381.96 L1037.23 380.25 L1037.52 378.55 L1037.81 376.84 L1038.11 375.13 L1038.4 373.43 L1038.7 371.72 L1039 370.01 L1039.3 368.3 L1039.61 366.59 L1039.91 364.88 L1040.22 363.17 L1040.54 361.46 L1040.86 359.75 L1041.18 358.04 L1041.51 356.32 L1041.84 354.61 L1042.17 352.9 L1042.51 351.18 L1042.85 349.47 L1043.2 347.76 L1043.55 346.04 L1043.9 344.33 L1044.26 342.62 L1044.63 340.9 L1044.99 339.19 L1045.37 337.48 L1045.74 335.77 L1046.12 334.06 L1046.51 332.35 L1046.9 330.64 L1047.29 328.94 L1047.69 327.23 L1048.09 325.53 L1048.49 323.83 L1048.9 322.13 L1049.32 320.43 L1049.74 318.74 L1050.16 317.04 L1050.59 315.35 L1051.02 313.67 L1051.46 311.98 L1051.9 310.3 L1052.34 308.61 L1052.79 306.94 L1053.24 305.26 L1053.7 303.59 L1054.17 301.92 L1054.63 300.26 L1055.11 298.6 L1055.58 296.94 L1056.06 295.28 L1056.55 293.63 L1057.04 291.98 L1057.54 290.34 L1058.05 288.7 L1058.56 287.06 L1059.08 285.43 L1059.61 283.8 L1060.15 282.18 L1060.69 280.56 L1061.24 278.94 L1061.81 277.32 L1062.38 275.71 L1062.96 274.11 L1063.55 272.5 L1064.16 270.9 L1064.77 269.31 L1065.4 267.72 L1066.04 266.13 L1066.69 264.54 L1067.35 262.96 L1068.03 261.39 L1068.72 259.81 L1069.43 258.24 L1070.15 256.68 L1070.88 255.12 L1071.63 253.56 L1072.4 252.01 L1073.18 250.46 L1073.97 248.91 L1074.79 247.37 L1075.62 245.83 L1076.47 244.3 L1077.34 242.77 L1078.22 241.24 L1079.12 239.72 L1080.03 238.2 L1080.96 236.68 L1081.9 235.17 L1082.85 233.66 L1083.81 232.15 L1084.77 230.64 L1085.75 229.14 L1086.72 227.63 L1087.7 226.13 L1088.68 224.63 L1089.67 223.13 L1090.65 221.63 L1091.63 220.13 L1092.61 218.63 L1093.58 217.13 L1094.54 215.62 L1095.5 214.12 L1096.45 212.62 L1097.38 211.11 L1098.31 209.61 L1099.22 208.1 L1100.12 206.59 L1101 205.08 L1101.86 203.56 L1102.71 202.05 L1103.53 200.52 L1104.33 199 L1105.11 197.47 L1105.87 195.94 L1106.59 194.4 L1107.3 192.86 L1107.97 191.32 L1108.61 189.77 L1109.23 188.21 L1109.81 186.65 L1110.37 185.08 L1110.91 183.51 L1111.42 181.94 L1111.91 180.35 L1112.38 178.77 L1112.83 177.17 L1113.27 175.57 L1113.69 173.97 L1114.09 172.36 L1114.48 170.74 L1114.86 169.12 L1115.24 167.49 L1115.6 165.85 L1115.95 164.21 L1116.31 162.56 L1116.65 160.91 L1117 159.25 L1117.34 157.58 L1117.69 155.91 L1118.03 154.23 L1118.38 152.54 L1118.74 150.84 L1119.1 149.14 L1119.47 147.43 L1119.85 145.72 L1120.25 144 L1120.65 142.27 L1121.07 140.53 L1121.5 138.78 L1121.95 137.03 L1122.42 135.27 L1122.91 133.5 L1123.42 131.73 L1123.96 129.95 L1124.51 128.16 L1125.09 126.38 L1125.69 124.6 L1126.31 122.82 L1126.96 121.05 L1127.62 119.29 L1128.32 117.54 L1129.03 115.8 L1129.77 114.08 L1130.54 112.38 L1131.33 110.7 L1132.14 109.05 L1132.99 107.42 L1133.85 105.81 L1134.74 104.24 L1135.66 102.71 L1136.61 101.2 L1137.58 99.74 L1138.57 98.31 L1139.6 96.93 L1140.65 95.59 L1141.73 94.3 L1142.84 93.06 L1143.98 91.88 L1145.14 90.74 L1146.34 89.67 L1147.56 88.65 L1148.82 87.69 L1150.1 86.8 L1151.41 85.98 L1152.75 85.22 L1154.13 84.54 L1155.53 83.93 L1156.97 83.39 L1158.43 82.93 L1159.92 82.53 L1161.44 82.2 L1162.99 81.94 L1164.55 81.74 L1166.15 81.6 L1167.76 81.51 L1169.4 81.48 L1171.05 81.5 L1172.73 81.58 L1174.42 81.7 L1176.12 81.86 L1177.84 82.07 L1179.58 82.32 L1181.33 82.6 L1183.08 82.92 L1184.85 83.27 L1186.63 83.66 L1188.41 84.07 L1190.2 84.5 L1192 84.96 L1193.8 85.44 L1195.6 85.94 L1197.4 86.45 L1199.21 86.98 L1201.01 87.52 L1202.81 88.06 L1204.61 88.61 L1206.4 89.16 L1208.18 89.72 L1209.96 90.27 L1211.73 90.82 L1213.49 91.36 L1215.24 91.9 L1216.98 92.42 L1218.71 92.93 L1220.43 93.44 L1222.14 93.93 L1223.84 94.42 L1225.54 94.9 L1227.22 95.36 L1228.9 95.82 L1230.57 96.28 L1232.23 96.72 L1233.89 97.16 L1235.54 97.58 L1237.19 98 L1238.84 98.42 L1240.48 98.82 L1242.11 99.22 L1243.75 99.61 L1245.38 100 L1247.01 100.38 L1248.64 100.75 L1250.27 101.12 L1251.9 101.48 L1253.53 101.84 L1255.16 102.19 L1256.79 102.53 L1258.43 102.88 L1260.06 103.21 L1261.7 103.54 L1263.34 103.87 L1264.99 104.19 L1266.64 104.51 L1268.3 104.83 L1269.96 105.14 L1271.63 105.44 L1273.3 105.75 L1274.98 106.05 L1276.67 106.35 L1278.36 106.65 L1280.06 106.94 L1281.76 107.24 L1283.47 107.54 L1285.18 107.83 L1286.9 108.13 L1288.62 108.42 L1290.34 108.72 L1292.06 109.02 L1293.79 109.33 L1295.52 109.63 L1297.25 109.94 L1298.98 110.25 L1300.71 110.57 L1302.44 110.89 L1304.17 111.22 L1305.91 111.56 L1307.64 111.9 L1309.37 112.24 L1311.1 112.6 L1312.82 112.96 L1314.55 113.33 L1316.27 113.71 L1317.99 114.1 L1319.71 114.49 L1321.42 114.9 L1323.13 115.32 L1324.84 115.75 L1326.54 116.19 L1328.23 116.64 L1329.92 117.11 L1331.6 117.59 L1333.28 118.08 L1334.95 118.58 L1336.62 119.1 L1338.27 119.64 L1339.93 120.18 L1341.57 120.74 L1343.21 121.32 L1344.84 121.91 L1346.47 122.51 L1348.08 123.13 L1349.69 123.76 L1351.3 124.4 L1352.89 125.06 L1354.48 125.73 L1356.06 126.42 L1357.64 127.13 L1359.2 127.84 L1360.76 128.58 L1362.31 129.32 L1363.85 130.08 L1365.39 130.86 L1366.91 131.65 L1368.43 132.46 L1369.94 133.28 L1371.44 134.12 L1372.93 134.98 L1374.42 135.84 L1375.89 136.73 L1377.36 137.63 L1378.81 138.54 L1380.26 139.47 L1381.7 140.42 L1383.13 141.38 L1384.55 142.36 L1385.96 143.36 L1387.36 144.37 L1388.75 145.4 L1390.14 146.44 L1391.51 147.5 L1392.87 148.57 L1394.22 149.66 L1395.56 150.76 L1396.9 151.87 L1398.22 153.01 L1399.53 154.15 L1400.83 155.31 L1402.12 156.48 L1403.4 157.66 L1404.67 158.86 L1405.92 160.07 L1407.17 161.29 L1408.41 162.52 L1409.63 163.77 L1410.84 165.02 L1412.05 166.29 L1413.24 167.57 L1414.41 168.86 L1415.58 170.16 L1416.74 171.47 L1417.88 172.79 L1419.01 174.12 L1420.13 175.46 L1421.24 176.81 L1422.33 178.16 L1423.41 179.53 L1424.48 180.9 L1425.54 182.29 L1426.59 183.68 L1427.62 185.08 L1428.64 186.48 L1429.64 187.89 L1430.64 189.31 L1431.62 190.74 L1432.59 192.18 L1433.55 193.62 L1434.5 195.06 L1435.44 196.51 L1436.37 197.97 L1437.29 199.44 L1438.2 200.9 L1439.11 202.38 L1440 203.86 L1440.89 205.34 L1441.77 206.83 L1442.65 208.32 L1443.51 209.82 L1444.37 211.32 L1445.23 212.82 L1446.08 214.33 L1446.93 215.84 L1447.77 217.35 L1448.61 218.86 L1449.44 220.38 L1450.27 221.9 L1451.1 223.43 L1451.93 224.95 L1452.76 226.48 L1453.58 228 L1454.4 229.53 L1455.22 231.06 L1456.05 232.59 L1456.87 234.13 L1457.69 235.66 L1458.52 237.19 L1459.34 238.72 L1460.17 240.25 L1461 241.78 L1461.83 243.32 L1462.66 244.85 L1463.49 246.38 L1464.32 247.92 L1465.14 249.45 L1465.97 250.98 L1466.8 252.52 L1467.62 254.06 L1468.45 255.59 L1469.27 257.13 L1470.09 258.67 L1470.9 260.21 L1471.71 261.75 L1472.52 263.3 L1473.33 264.84 L1474.13 266.39 L1474.93 267.94 L1475.72 269.48 L1476.51 271.04 L1477.29 272.59 L1478.06 274.15 L1478.83 275.7 L1479.6 277.26 L1480.36 278.83 L1481.11 280.39 L1481.85 281.96 L1482.58 283.53 L1483.31 285.1 L1484.03 286.67 L1484.74 288.25 L1485.44 289.83 L1486.14 291.42 L1486.82 293 L1487.49 294.59 L1488.16 296.19 L1488.82 297.78 L1489.47 299.38 L1490.11 300.98 L1490.74 302.59 L1491.36 304.2 L1491.98 305.81 L1492.59 307.42 L1493.19 309.03 L1493.78 310.65 L1494.37 312.27 L1494.95 313.9 L1495.53 315.52 L1496.1 317.15 L1496.66 318.78 L1497.22 320.41 L1497.77 322.04 L1498.32 323.68 L1498.86 325.32 L1499.4 326.96 L1499.93 328.6 L1500.46 330.25 L1500.98 331.89 L1501.5 333.54 L1502.02 335.19 L1502.53 336.84 L1503.04 338.5 L1503.55 340.15 L1504.05 341.81 L1504.55 343.47 L1505.05 345.13 L1505.55 346.79 L1506.05 348.45 L1506.54 350.12 L1507.03 351.78 L1507.52 353.45 L1508.01 355.12 L1508.49 356.79 L1508.98 358.45 L1509.46 360.13 L1509.95 361.8 L1510.43 363.47 L1510.91 365.14 L1511.39 366.82 L1511.86 368.49 L1512.34 370.17 L1512.81 371.84 L1513.29 373.52 L1513.76 375.2 L1514.23 376.87 L1514.7 378.55 L1515.17 380.23 L1515.64 381.9 L1516.11 383.58 L1516.58 385.26 L1517.05 386.94 L1517.52 388.61 L1517.98 390.29 L1518.45 391.97 L1518.92 393.65 L1519.38 395.32 L1519.85 397 L1520.31 398.67 L1520.78 400.35 L1521.24 402.02 L1521.71 403.7 L1522.17 405.37 L1522.64 407.04 L1523.1 408.71 L1523.57 410.38 L1524.04 412.05 L1524.5 413.72 L1524.97 415.39 L1525.43 417.06 L1525.9 418.73 L1526.36 420.4 L1526.82 422.07 L1527.29 423.73 L1527.75 425.4 L1528.22 427.07 L1528.68 428.73 L1529.14 430.4 L1529.61 432.07 L1530.07 433.74 L1530.53 435.4 L1530.99 437.07 L1531.45 438.74 L1531.91 440.41 L1532.37 442.08 L1532.83 443.75 L1533.28 445.42 L1533.74 447.09 L1534.2 448.77 L1534.65 450.44 L1535.11 452.11 L1535.56 453.79 L1536.01 455.46 L1536.47 457.14 L1536.92 458.82 L1537.37 460.5 L1537.81 462.18 L1538.26 463.86 L1538.71 465.55 L1539.15 467.23 L1539.6 468.92 L1540.04 470.61 L1540.48 472.3 L1540.92 473.99 L1541.36 475.68 L1541.8 477.37 L1542.23 479.06 L1542.66 480.75 L1543.1 482.45 L1543.53 484.14 L1543.96 485.84 L1544.38 487.53 L1544.81 489.23 L1545.23 490.93 L1545.66 492.62 L1546.08 494.32 L1546.49 496.01 L1546.91 497.71 L1547.32 499.41 L1547.74 501.1 L1548.15 502.8 L1548.55 504.5 L1548.96 506.19 L1549.36 507.89 L1549.77 509.58 L1550.16 511.27 L1550.56 512.97 L1550.96 514.66 L1551.35 516.35 L1551.74 518.04 L1552.12 519.73 L1552.51 521.41 L1552.89 523.1 L1553.27 524.79 L1553.65 526.47 L1554.02 528.15 L1554.39 529.84 L1554.77 531.52 L1555.14 533.2 L1555.51 534.88 L1555.88 536.56 L1556.25 538.23 L1556.62 539.91 L1557 541.59 L1557.37 543.27 L1557.74 544.94 L1558.12 546.62 L1558.5 548.29 L1558.88 549.97 L1559.27 551.64 L1559.65 553.32 L1560.05 554.99 L1560.44 556.67 L1560.84 558.35 L1561.25 560.02 L1561.65 561.7 L1562.07 563.38 L1562.49 565.05 L1562.92 566.73 L1563.35 568.41 L1563.79 570.09 L1564.23 571.77 L1564.69 573.45 L1565.15 575.14 L1565.62 576.82 L1566.1 578.5 L1566.58 580.19 L1567.08 581.88 L1567.58 583.56 L1568.1 585.25 L1568.62 586.94 L1569.16 588.62 L1569.71 590.3 L1570.28 591.98 L1570.86 593.65 L1571.45 595.32 L1572.06 596.98 L1572.68 598.63 L1573.33 600.27 L1573.99 601.9 L1574.67 603.52 L1575.37 605.13 L1576.08 606.72 L1576.82 608.31 L1577.59 609.87 L1578.37 611.42 L1579.18 612.96 L1580.01 614.47 L1580.87 615.97 L1581.75 617.44 L1582.66 618.9 L1583.59 620.33 L1584.56 621.74 L1585.55 623.13 L1586.57 624.49 L1587.62 625.83 L1588.7 627.13 L1589.82 628.42 L1590.96 629.67 L1592.14 630.89 L1593.36 632.08 L1594.6 633.24 L1595.89 634.37 L1597.2 635.46 L1598.56 636.52 L1599.94 637.55 L1601.35 638.55 L1602.79 639.52 L1604.26 640.46 L1605.75 641.37 L1607.27 642.25 L1608.8 643.11 L1610.36 643.94 L1611.94 644.74 L1613.54 645.51 L1615.15 646.26 L1616.77 646.99 L1618.41 647.69 L1620.06 648.37 L1621.72 649.02 L1623.39 649.66 L1625.06 650.27 L1626.74 650.86 L1628.42 651.43 L1630.11 651.98 L1631.79 652.52 L1633.48 653.03 L1635.16 653.53 L1636.84 654 L1638.51 654.47 L1640.17 654.91 L1641.83 655.34 L1643.48 655.76 L1645.11 656.16 L1646.73 656.55 L1648.33 656.93 L1649.92 657.29"/>
</g>
<rect x="81.5" y="4.7" width="762.3" height="5.2" fill="#000"/>
<rect x="81.5" y="659.5" width="762.3" height="5.2" fill="#000"/>
<rect x="81.5" y="3.1" width="5.2" height="661.6" fill="#000"/>
<rect x="837.8" y="3.1" width="5.2" height="661.6" fill="#000"/>
<rect x="86.2" y="616.54" width="4.7" height="5.2" fill="#000"/>
<rect x="86.2" y="573.37" width="9.5" height="5.2" fill="#000"/>
<rect x="86.2" y="530.21" width="4.7" height="5.2" fill="#000"/>
<rect x="86.2" y="487.05" width="9.5" height="5.2" fill="#000"/>
<rect x="86.2" y="443.89" width="4.7" height="5.2" fill="#000"/>
<rect x="86.2" y="400.72" width="9.5" height="5.2" fill="#000"/>
<rect x="86.2" y="357.56" width="4.7" height="5.2" fill="#000"/>
<rect x="86.2" y="314.4" width="9.5" height="5.2" fill="#000"/>
<rect x="86.2" y="271.24" width="4.7" height="5.2" fill="#000"/>
<rect x="86.2" y="228.07" width="9.5" height="5.2" fill="#000"/>
<rect x="86.2" y="184.91" width="4.7" height="5.2" fill="#000"/>
<rect x="86.2" y="141.75" width="9.5" height="5.2" fill="#000"/>
<rect x="86.2" y="98.59" width="4.7" height="5.2" fill="#000"/>
<rect x="86.2" y="55.42" width="9.5" height="5.2" fill="#000"/>
<rect x="86.2" y="12.26" width="4.7" height="5.2" fill="#000"/>
<rect x="150.25" y="655.3" width="5.2" height="4.7" fill="#000"/>
<rect x="219.01" y="648.5" width="5.2" height="11.5" fill="#000"/>
<rect x="287.76" y="655.3" width="5.2" height="4.7" fill="#000"/>
<rect x="356.52" y="648.5" width="5.2" height="11.5" fill="#000"/>
<rect x="425.27" y="655.3" width="5.2" height="4.7" fill="#000"/>
<rect x="494.03" y="648.5" width="5.2" height="11.5" fill="#000"/>
<rect x="562.78" y="655.3" width="5.2" height="4.7" fill="#000"/>
<rect x="631.54" y="648.5" width="5.2" height="11.5" fill="#000"/>
<rect x="700.29" y="655.3" width="5.2" height="4.7" fill="#000"/>
<rect x="769.05" y="648.5" width="5.2" height="11.5" fill="#000"/>
<rect x="985.5" y="12.4" width="724.8" height="5" fill="#000"/>
<rect x="985.5" y="655" width="724.8" height="5" fill="#000"/>
<rect x="985.5" y="10.8" width="5" height="649.2" fill="#000"/>
<rect x="1704.5" y="10.8" width="5" height="649.2" fill="#000"/>
<rect x="990" y="590.55" width="4" height="4.5" fill="#000"/>
<rect x="990" y="526.05" width="8.5" height="4.5" fill="#000"/>
<rect x="990" y="462.25" width="4" height="4.5" fill="#000"/>
<rect x="990" y="398.25" width="8.5" height="4.5" fill="#000"/>
<rect x="990" y="333.65" width="4" height="4.5" fill="#000"/>
<rect x="990" y="269.35" width="8.5" height="4.5" fill="#000"/>
<rect x="990" y="204.95" width="4" height="4.5" fill="#000"/>
<rect x="990" y="140.55" width="8.5" height="4.5" fill="#000"/>
<rect x="990" y="75.75" width="4" height="4.5" fill="#000"/>
<rect x="1037.11" y="650.8" width="4.5" height="4.7" fill="#000"/>
<rect x="1088.46" y="645" width="4.5" height="10.5" fill="#000"/>
<rect x="1139.82" y="650.8" width="4.5" height="4.7" fill="#000"/>
<rect x="1191.18" y="645" width="4.5" height="10.5" fill="#000"/>
<rect x="1242.54" y="650.8" width="4.5" height="4.7" fill="#000"/>
<rect x="1293.89" y="645" width="4.5" height="10.5" fill="#000"/>
<rect x="1345.25" y="650.8" width="4.5" height="4.7" fill="#000"/>
<rect x="1396.61" y="645" width="4.5" height="10.5" fill="#000"/>
<rect x="1447.96" y="650.8" width="4.5" height="4.7" fill="#000"/>
<rect x="1499.32" y="645" width="4.5" height="10.5" fill="#000"/>
<rect x="1550.68" y="650.8" width="4.5" height="4.7" fill="#000"/>
<rect x="1602.04" y="645" width="4.5" height="10.5" fill="#000"/>
<rect x="1653.39" y="650.8" width="4.5" height="4.7" fill="#000"/>
<text transform="translate(70 669.2) scale(0.8500 1)" font-size="29.3" font-weight="bold" text-anchor="end">0</text>
<text transform="translate(70 583.3) scale(0.8500 1)" font-size="29.3" font-weight="bold" text-anchor="end">5</text>
<text transform="translate(70 497.3) scale(0.8500 1)" font-size="29.3" font-weight="bold" text-anchor="end">10</text>
<text transform="translate(70 411.7) scale(0.8500 1)" font-size="29.3" font-weight="bold" text-anchor="end">15</text>
<text transform="translate(70 325.1) scale(0.8500 1)" font-size="29.3" font-weight="bold" text-anchor="end">20</text>
<text transform="translate(70 238.8) scale(0.8500 1)" font-size="29.3" font-weight="bold" text-anchor="end">25</text>
<text transform="translate(70 152.6) scale(0.8500 1)" font-size="29.3" font-weight="bold" text-anchor="end">30</text>
<text transform="translate(70 66.1) scale(0.8500 1)" font-size="29.3" font-weight="bold" text-anchor="end">35</text>
<text transform="translate(83.3 696.4) scale(0.8500 1)" font-size="29.3" font-weight="bold" text-anchor="middle">0.0</text>
<text transform="translate(220.31 696.4) scale(0.8500 1)" font-size="29.3" font-weight="bold" text-anchor="middle">0.1</text>
<text transform="translate(358.32 696.4) scale(0.8500 1)" font-size="29.3" font-weight="bold" text-anchor="middle">0.2</text>
<text transform="translate(495.83 696.4) scale(0.8500 1)" font-size="29.3" font-weight="bold" text-anchor="middle">0.3</text>
<text transform="translate(633.34 696.4) scale(0.8500 1)" font-size="29.3" font-weight="bold" text-anchor="middle">0.4</text>
<text transform="translate(770.85 696.4) scale(0.8500 1)" font-size="29.3" font-weight="bold" text-anchor="middle">0.5</text>
<text transform="translate(974.2 665) scale(0.8300 1)" font-size="29.3" font-weight="bold" text-anchor="end">0</text>
<text transform="translate(974.2 536.3) scale(0.8300 1)" font-size="29.3" font-weight="bold" text-anchor="end">20</text>
<text transform="translate(974.2 408.5) scale(0.8300 1)" font-size="29.3" font-weight="bold" text-anchor="end">40</text>
<text transform="translate(974.2 279.6) scale(0.8300 1)" font-size="29.3" font-weight="bold" text-anchor="end">60</text>
<text transform="translate(974.2 150.8) scale(0.8300 1)" font-size="29.3" font-weight="bold" text-anchor="end">80</text>
<text transform="translate(974.2 22.3) scale(0.8300 1)" font-size="29.3" font-weight="bold" text-anchor="end">100</text>
<text transform="translate(987.5 691.8) scale(0.8300 1)" font-size="29.3" font-weight="bold" text-anchor="middle">0</text>
<text transform="translate(1090.21 691.8) scale(0.8300 1)" font-size="29.3" font-weight="bold" text-anchor="middle">200</text>
<text transform="translate(1192.93 691.8) scale(0.8300 1)" font-size="29.3" font-weight="bold" text-anchor="middle">400</text>
<text transform="translate(1295.64 691.8) scale(0.8300 1)" font-size="29.3" font-weight="bold" text-anchor="middle">600</text>
<text transform="translate(1398.36 691.8) scale(0.8300 1)" font-size="29.3" font-weight="bold" text-anchor="middle">800</text>
<text transform="translate(1501.07 691.8) scale(0.8300 1)" font-size="29.3" font-weight="bold" text-anchor="middle">1000</text>
<text transform="translate(1603.79 691.8) scale(0.8300 1)" font-size="29.3" font-weight="bold" text-anchor="middle">1200</text>
<text transform="translate(1706.5 691.8) scale(0.8300 1)" font-size="29.3" font-weight="bold" text-anchor="middle">1400</text>
<text transform="translate(438.6 726.4) scale(0.9280 1)" font-size="35" font-weight="bold" text-anchor="middle">Voltage (V)</text>
<text transform="translate(1343 730.9) scale(0.9500 1)" font-size="31.6" font-weight="bold" text-anchor="middle">wavelength (nm)</text>
<g transform="translate(29.4 544.4) rotate(-90) scale(1 0.965)"><text font-size="34.1" font-weight="bold" text-anchor="start">Cuurent Density (mAcm<tspan font-size="21.5" dx="1.5" dy="-13.4">-2</tspan><tspan dx="0.8" dy="13.4">)</tspan></text></g>
<g transform="translate(933.2 338.0) rotate(-90) scale(1 0.905)"><text font-size="33.3" font-weight="bold" text-anchor="middle">EQE (%)</text></g>
<rect x="154.5" y="342.5" width="300" height="89" fill="#fff" stroke="#000" stroke-width="1.2"/>
<polygon fill="#009900" stroke="#009900" stroke-width="0.6" stroke-linejoin="round" points="155.4,366 158.8,362 231.5,362 234.9,366 231.5,370 158.8,370"/>
<polygon fill="#ff0000" stroke="#ff0000" stroke-width="0.6" stroke-linejoin="round" points="155.4,407.2 158.8,403.2 231.5,403.2 234.9,407.2 231.5,411.2 158.8,411.2"/>
<text transform="translate(239.3 377) scale(0.9580 1)" font-size="33" font-weight="normal" text-anchor="start">with defects</text>
<text transform="translate(239.3 418.9) scale(0.9580 1)" font-size="33" font-weight="normal" text-anchor="start">without defects</text>
<rect x="1411.5" y="33.5" width="285" height="86" fill="#fff" stroke="#222" stroke-width="1.2"/>
<polygon fill="#009900" stroke="#009900" stroke-width="0.6" stroke-linejoin="round" points="1411.6,54.8 1415,50.8 1484.2,50.8 1487.6,54.8 1484.2,58.8 1415,58.8"/>
<polygon fill="#ff0000" stroke="#ff0000" stroke-width="0.6" stroke-linejoin="round" points="1411.6,97 1415,93 1484.2,93 1487.6,97 1484.2,101 1415,101"/>
<text transform="translate(1491.8 65.2) scale(0.9480 1)" font-size="31.6" font-weight="normal" text-anchor="start">with defects</text>
<text transform="translate(1491.8 106.7) scale(0.9480 1)" font-size="31.6" font-weight="normal" text-anchor="start">without defects</text>
</svg>
</body>
</html>
